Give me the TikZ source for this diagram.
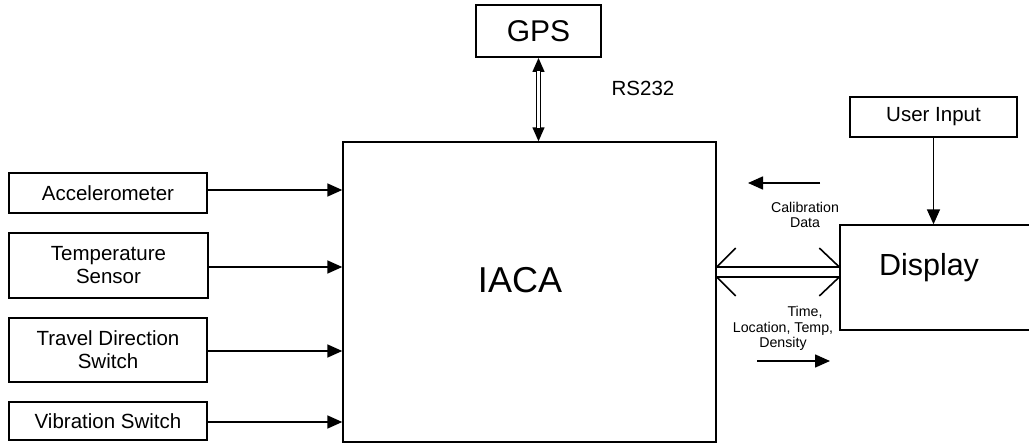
\documentclass[tikz,border=0pt]{standalone}
\usepackage{fontspec}
\setmainfont{Liberation Sans}
\usetikzlibrary{arrows.meta}
\tikzset{
  thickbox/.style={draw=black, line width=1.9pt, rectangle, inner sep=0pt, align=center},
  thinbox/.style={draw=black, line width=1.4pt, rectangle, inner sep=0pt, align=center},
  midfont/.style={font=\fontsize{20.5}{23}\selectfont},
  smallfont/.style={font=\fontsize{14.2}{15.5}\selectfont},
  conn/.style={line width=1.6pt, -{Triangle[length=15pt,width=13pt]}},
  plain/.style={line width=1.6pt},
}
\begin{document}
\begin{tikzpicture}[x=1pt,y=-1pt]
\useasboundingbox[fill=white] (0,0) rectangle (1029,444);
% boxes
\node[thickbox, minimum width=125pt, minimum height=52pt, font=\fontsize{30}{34}\selectfont] (gps) at (538.5,31) {GPS};
\node[thinbox, minimum width=373pt, minimum height=300pt] (iaca) at (529.5,292) {};
\node[font=\fontsize{36}{40}\selectfont] (iacalabel) at (520,280) {IACA};
\node[thickbox, midfont, minimum width=198pt, minimum height=40pt] (accel) at (108,193) {Accelerometer};
\node[thickbox, midfont, minimum width=199pt, minimum height=65pt] (temp) at (108.5,265.5) {Temperature\\Sensor};
\node[thinbox, midfont, minimum width=198pt, minimum height=64pt] (travel) at (108,350) {Travel Direction\\Switch};
\node[thickbox, midfont, minimum width=198pt, minimum height=38pt] (vib) at (108,421) {Vibration Switch};
\node[thinbox, midfont, minimum width=167pt, minimum height=40pt] (userin) at (933.5,117) {User Input};
\node[thinbox, minimum width=192pt, minimum height=105pt] (display) at (936,277.5) {};
\node[font=\fontsize{30.5}{34}\selectfont] (displaylabel) at (929,268) {Display};
% labels
\node[midfont] (rs) at (643,88) {RS232};
\node[smallfont, align=center] (calib) at (805,215) {Calibration\\Data};
\node[smallfont, align=center] (timetxt) at (783,328.5) {\hspace*{44pt}Time,\\Location, Temp,\\Density};
% GPS double arrow
\draw[line width=1.4pt, {Triangle[length=14pt,width=12pt]}-{Triangle[length=14pt,width=12pt]}] (gps.south) -- (gps.south |- iaca.north);
\draw[line width=1.3pt, double=white, double distance=2.4pt, shorten <=13pt, shorten >=13pt] (gps.south) -- (gps.south |- iaca.north);
% sensor arrows
\draw[conn] (accel.east |- 0,190) -- (iaca.west |- 0,190);
\draw[conn] (temp.east |- 0,267) -- (iaca.west |- 0,267);
\draw[conn] (travel.east |- 0,351) -- (iaca.west |- 0,351);
\draw[conn] (vib.east |- 0,422) -- (iaca.west |- 0,422);
% user input
\draw[conn] (userin.south) -- (userin.south |- display.north);
% IACA <-> Display hollow double arrow
\draw[plain] (iaca.east |- 0,267) coordinate (a1) -- (display.west |- 0,267) coordinate (b1);
\draw[plain] (iaca.east |- 0,277) coordinate (a2) -- (display.west |- 0,277) coordinate (b2);
\draw[plain] (a1) -- ++(19,-19);
\draw[plain] (a2) -- ++(19,19);
\draw[plain] (b1) -- ++(-20,-19);
\draw[plain] (b2) -- ++(-20,19);
% small direction arrows
\coordinate (c1) at (820,183);
\coordinate (c2) at (748,183);
\draw[conn] (c1) -- (c2);
\coordinate (d1) at (757,361);
\coordinate (d2) at (830,361);
\draw[conn] (d1) -- (d2);
\end{tikzpicture}
\end{document}
